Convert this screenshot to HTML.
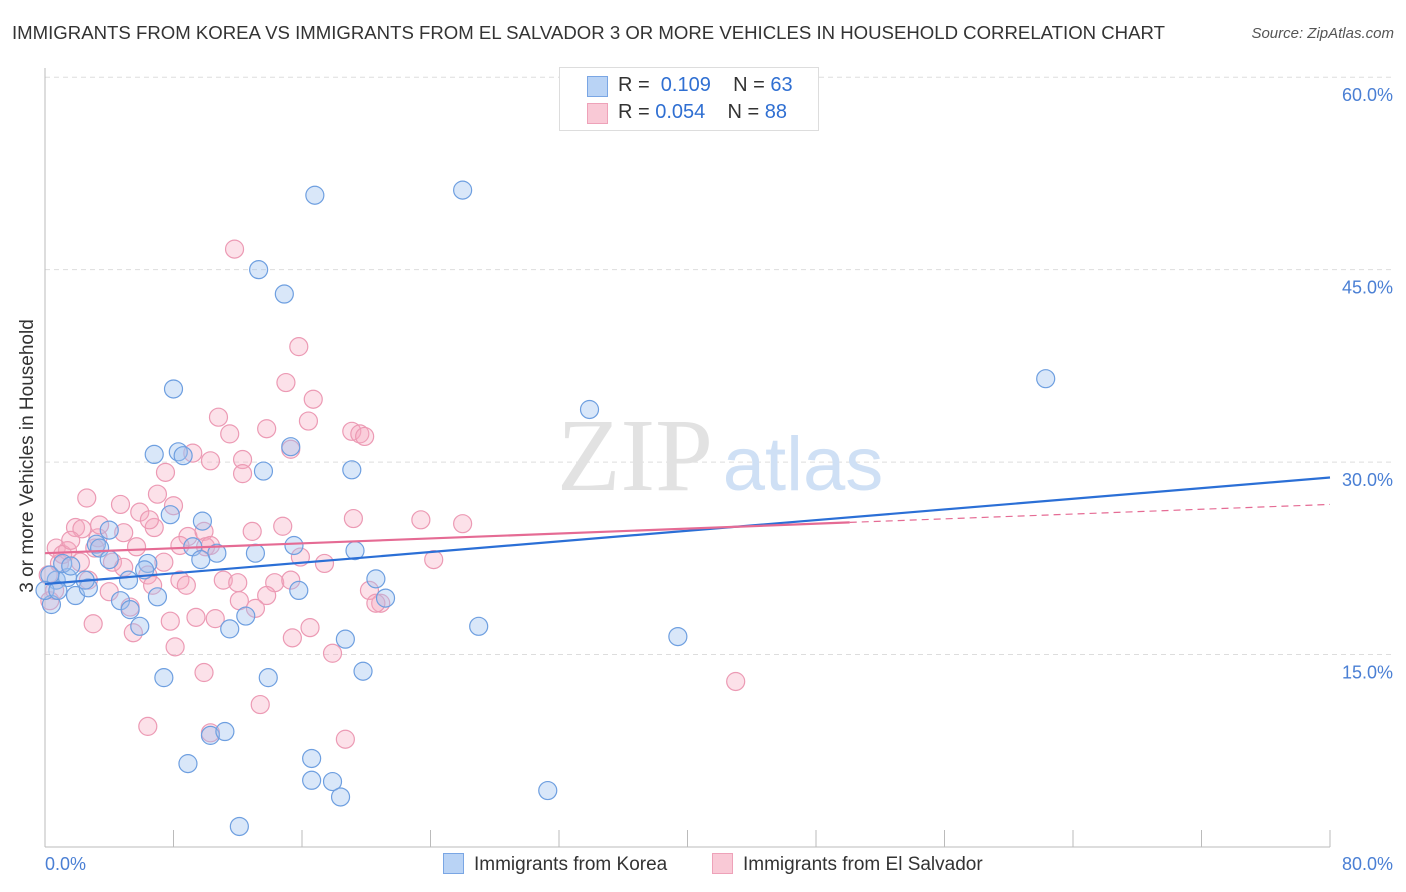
<!DOCTYPE html>
<html><head><meta charset="utf-8"><style>
body{margin:0;background:#fff;font-family:"Liberation Sans",sans-serif;}
#wrap{position:relative;width:1406px;height:892px;overflow:hidden;}
.t{position:absolute;white-space:nowrap;}
</style></head><body>
<div id="wrap">
<div class="t" style="left:12px;top:22px;font-size:18.6px;color:#333;">IMMIGRANTS FROM KOREA VS IMMIGRANTS FROM EL SALVADOR 3 OR MORE VEHICLES IN HOUSEHOLD CORRELATION CHART</div>
<div class="t" style="right:12px;top:25px;font-size:15px;color:#555;font-style:italic;">Source: ZipAtlas.com</div>
<svg id="svg" width="1406" height="892" style="position:absolute;left:0;top:0"></svg>
</div>
<script>
const xTicks=[0,80];
const yTicks=[15,30,45,60];
const koreaX=[16.8,26.0,13.3,14.9,8.0,33.9,62.3,6.8,8.3,8.6,13.6,19.1,15.3,7.8,9.8,4.0,3.2,9.2,10.7,13.1,15.5,19.3,6.4,9.7,5.2,20.6,0.7,1.4,1.9,2.7,4.7,7.0,15.8,21.2,5.9,11.5,12.5,27.0,18.7,39.4,7.4,13.9,19.8,10.3,11.2,8.9,16.6,16.6,17.9,18.4,31.3,12.1,0.4,0.3,1.1,3.4,4.0,0.0,2.5,6.2,0.8,1.6,5.3];
const koreaY=[50.8,51.2,45.0,43.1,35.7,34.1,36.5,30.6,30.8,30.5,29.3,29.4,31.2,25.9,25.4,24.7,23.6,23.4,22.9,22.9,23.5,23.1,22.1,22.4,20.8,20.9,20.8,21.0,19.6,20.2,19.2,19.5,20.0,19.4,17.2,17.0,18.0,17.2,16.2,16.4,13.2,13.2,13.7,8.7,9.0,6.5,6.9,5.2,5.1,3.9,4.4,1.6,18.9,21.2,22.1,23.3,22.4,20.0,20.8,21.6,20.0,21.9,18.5];
const salvX=[11.8,15.8,15.0,16.7,10.8,11.5,13.8,16.4,15.3,19.1,19.6,19.9,9.2,7.5,10.3,12.3,12.3,2.6,7.0,4.7,8.0,6.8,1.9,2.3,4.9,5.9,3.3,8.9,9.9,12.9,14.8,19.2,23.4,26.0,3.1,5.7,0.7,1.4,4.2,7.4,10.0,4.9,15.9,17.4,24.2,0.9,2.2,6.4,8.4,8.8,11.1,12.0,14.3,6.7,13.8,4.0,2.7,20.2,20.9,20.6,5.3,9.4,10.6,13.1,3.0,7.8,5.5,15.4,16.5,17.9,8.1,9.9,13.4,18.7,6.4,43.0,0.3,0.2,1.1,1.6,3.4,6.5,8.4,10.3,12.1,15.3,0.6,10.3];
const salvY=[46.6,39.0,36.2,34.9,33.5,32.2,32.6,33.2,31.0,32.4,32.2,32.0,30.7,29.2,30.1,30.2,29.1,27.2,27.5,26.7,26.6,24.9,24.9,24.8,24.5,26.1,24.1,24.2,24.6,24.6,25.0,25.6,25.5,25.2,23.3,23.4,23.3,23.1,22.2,22.2,23.4,21.8,22.6,22.1,22.4,22.1,22.2,21.2,20.8,20.4,20.8,20.6,20.6,20.4,19.6,19.9,20.8,20.0,19.0,19.0,18.7,17.9,17.8,18.6,17.4,17.6,16.7,16.3,17.1,15.1,15.6,13.6,11.1,8.4,9.4,12.9,19.2,21.2,22.8,23.9,25.1,25.5,23.5,23.5,19.2,20.8,20.0,8.9];
const koreaLine=[20.5,28.8];
const salvLine=[22.9,25.3,26.7];
const salvSolidEnd=50.1;

const NS='http://www.w3.org/2000/svg';
const svg=document.getElementById('svg');
const X=v=>45+v/80*1285;
const Y=v=>847-v*12.83;
function mk(tag,attrs,parent){const e=document.createElementNS(NS,tag);for(const k in attrs)e.setAttribute(k,attrs[k]);(parent||svg).appendChild(e);return e;}
yTicks.forEach(v=>{
 const g=mk('line',{x1:45,x2:1395,y1:Y(v),y2:Y(v),stroke:'#ddd','stroke-dasharray':'5,4'});
 
 
 const t=mk('text',{x:1393,y:Y(v)+24,'text-anchor':'end','font-size':18,fill:'#4a7fd4','font-family':'Liberation Sans'});
 t.textContent=v.toFixed(1)+'%';
 
 
});
mk('line',{x1:45,x2:45,y1:68,y2:847,stroke:'#bbb'});
mk('line',{x1:45,x2:1330,y1:847,y2:847,stroke:'#bbb'});
for(let i=1;i<=10;i++){mk('line',{x1:X(i*8),x2:X(i*8),y1:830,y2:847,stroke:'#bbb'});}
xTicks.forEach((v,i)=>{
 const t=mk('text',{x:i==0?45:1393,y:870,'text-anchor':i==0?'start':'end','font-size':18,fill:'#4a7fd4','font-family':'Liberation Sans'});
 t.textContent=v.toFixed(1)+'%';
 
 
});
const w1=mk('text',{x:635,y:490,'text-anchor':'middle','font-size':104,fill:'#e2e2e2','font-family':'Liberation Serif'});w1.textContent='ZIP';


const w2=mk('text',{x:803,y:490,'text-anchor':'middle','font-size':76,fill:'#cfe0f5','font-family':'Liberation Sans'});w2.textContent='atlas';


const yt=mk('text',{x:0,y:0,transform:'translate(33,456) rotate(-90)','text-anchor':'middle','font-size':19,fill:'#333','font-family':'Liberation Sans'});
yt.textContent='3 or more Vehicles in Household';


salvX.forEach((v,i)=>{
 const c=mk('circle',{cx:X(v),cy:Y(salvY[i]),r:9,fill:'rgba(246,170,192,0.35)',stroke:'#ec9ab4','stroke-width':1.2});
 
 
});
koreaX.forEach((v,i)=>{
 const c=mk('circle',{cx:X(v),cy:Y(koreaY[i]),r:9,fill:'rgba(160,195,240,0.4)',stroke:'#6e9fe0','stroke-width':1.2});
 
 
});
const l1=mk('line',{x1:X(0),y1:Y(koreaLine[0]),x2:X(80),y2:Y(koreaLine[1]),stroke:'#2b6fd6','stroke-width':2.2});


const l2=mk('line',{x1:X(0),y1:Y(salvLine[0]),x2:X(salvSolidEnd),y2:Y(salvLine[1]),stroke:'#e56b94','stroke-width':2.2});


const l3=mk('line',{x1:X(salvSolidEnd),y1:Y(salvLine[1]),x2:X(80),y2:Y(salvLine[2]),stroke:'#e56b94','stroke-width':1.2,'stroke-dasharray':'7,5'});


</script>
<div class="t" style="left:559px;top:67px;width:258px;height:62px;border:1px solid #ddd;background:#fff;font-size:20px;">
 <div style="position:absolute;left:27px;top:8px;width:19px;height:19px;background:#b9d3f5;border:1px solid #7aa6e4"></div>
 <div class="t" style="left:58px;top:6px;color:#333">R = <span style="color:#2f6fd2">&nbsp;0.109</span>&nbsp;&nbsp;&nbsp; N = <span style="color:#2f6fd2">63</span></div>
 <div style="position:absolute;left:27px;top:35px;width:19px;height:19px;background:#f9c9d6;border:1px solid #eea2b9"></div>
 <div class="t" style="left:58px;top:33px;color:#333">R = <span style="color:#2f6fd2">0.054</span>&nbsp;&nbsp;&nbsp; N = <span style="color:#2f6fd2">88</span></div>
</div>
<div class="t" style="left:443px;top:853px;font-size:19px;color:#333;">
 <span style="display:inline-block;width:19px;height:19px;background:#b9d3f5;border:1px solid #7aa6e4;vertical-align:-4px;margin-right:10px"></span>Immigrants from Korea</div>
<div class="t" style="left:712px;top:853px;font-size:19px;color:#333;">
 <span style="display:inline-block;width:19px;height:19px;background:#f9c9d6;border:1px solid #eea2b9;vertical-align:-4px;margin-right:10px"></span>Immigrants from El Salvador</div>
</body></html>
